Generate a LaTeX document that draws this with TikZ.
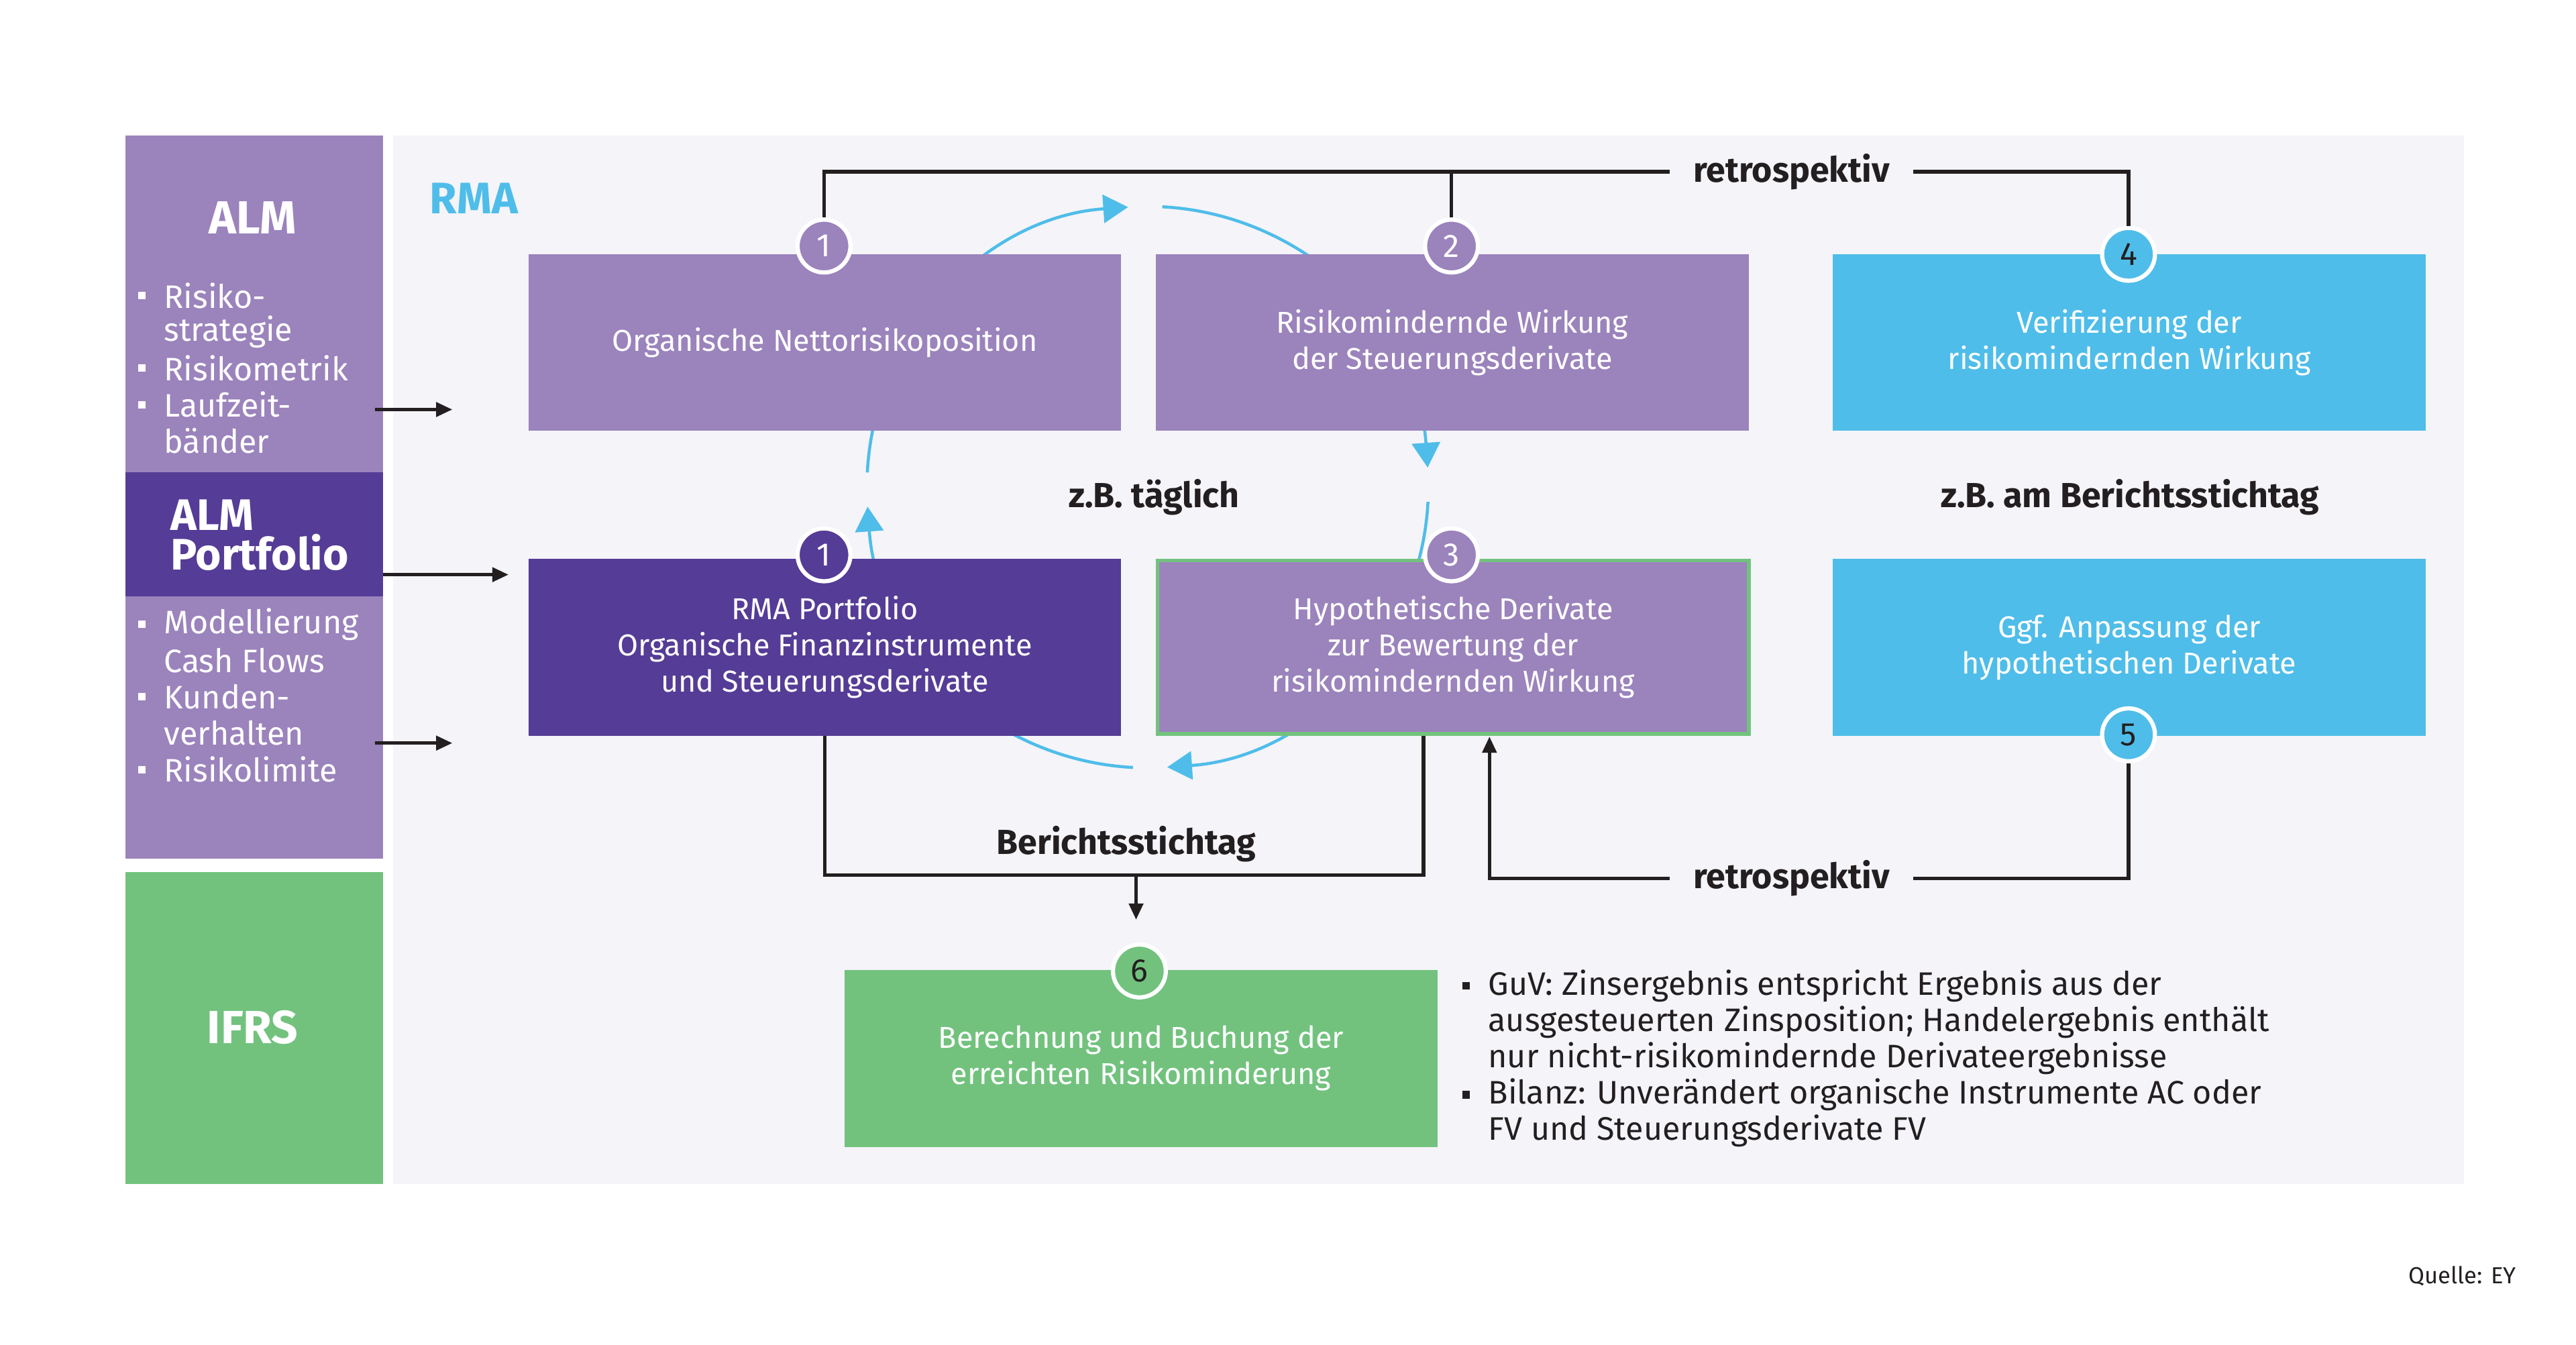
\documentclass[tikz,border=0pt]{standalone}
\usepackage{fontspec}
\setmainfont{Fira Sans}
\usetikzlibrary{arrows.meta,calc}
\definecolor{lp}{HTML}{9B83BC}
\definecolor{dp}{HTML}{553C96}
\definecolor{gr}{HTML}{72C27E}
\definecolor{cy}{HTML}{4FBDE9}
\definecolor{bg}{HTML}{F4F4F9}
\definecolor{tx}{HTML}{231F20}
\tikzset{
 box/.style={minimum width=359*0.025cm, minimum height=107*0.025cm, inner sep=0, align=center, text=white, font=\fontsize{13}{15.6}\selectfont},
 num/.style={circle, draw=white, line width=1.8pt, minimum size=32*0.025cm, inner sep=0, font=\fontsize{14}{14}\selectfont},
 blk/.style={draw=tx, line width=1.6pt},
 lab/.style={text=tx, font=\fontsize{15}{15}\selectfont\bfseries, inner xsep=10pt},
 side/.style={anchor=west, text=white, font=\fontsize{14}{14}\selectfont, inner sep=0},
 bul/.style={fill=white, minimum size=4.5*0.025cm, inner sep=0},
 cyc/.style={draw=cy, line width=1.3pt, -{Triangle[width=17*0.025cm,length=15*0.025cm]}},
 tip/.style={-{Triangle[width=6pt,length=7pt]}}
}
\begin{document}
\begin{tikzpicture}[x=0.025cm,y=-0.025cm]
\useasboundingbox (0,0) rectangle (1560,814.5);
\fill[white] (0,0) rectangle (1560,814.5);
\fill[bg] (238,82) rectangle (1492,717);
% left column
\fill[lp] (76,82) rectangle (232,286);
\fill[dp] (76,286) rectangle (232,361);
\fill[lp] (76,361) rectangle (232,520);
\fill[gr] (76,528) rectangle (232,717);
\node[text=white,font=\fontsize{20}{20}\selectfont\bfseries] (alm) at (153,132) {ALM};
\node[text=white,font=\fontsize{19}{19}\selectfont\bfseries,anchor=west,align=left,inner sep=0] (almp) at (103,324) {ALM\\[-2pt]Portfolio};
\node[text=white,font=\fontsize{20}{20}\selectfont\bfseries] (ifrs) at (153,622) {IFRS};
\foreach \t/\y in {Risiko-/179,strategie/201,Risikometrik/223,Laufzeit-/245,bänder/267,Modellierung/378,Cash Flows/400,Kunden-/422,verhalten/444,Risikolimite/466}{\node[side] at (99,\y) {\t};}
\foreach \y in {179,223,245,378,422,466}{\node[bul] at (86,\y) {};}
\coordinate (a1s) at (227,248); \coordinate (a1e) at (274,248);
\coordinate (a2s) at (232,348); \coordinate (a2e) at (308,348);
\coordinate (a3s) at (227,450); \coordinate (a3e) at (274,450);
\draw[blk,tip] (a1s) -- (a1e);
\draw[blk,tip] (a2s) -- (a2e);
\draw[blk,tip] (a3s) -- (a3e);
\node[text=cy,font=\fontsize{19}{19}\selectfont\bfseries] (rma) at (287,120) {RMA};
% cycle
\coordinate (cc) at (695,295);
\draw[cyc] ($(cc)+(183:170)$) arc[start angle=183,end angle=266,radius=170];
\draw[cyc] ($(cc)+(273:170)$) arc[start angle=273,end angle=356,radius=170];
\draw[cyc] ($(cc)+(363:170)$) arc[start angle=363,end angle=446,radius=170];
\draw[cyc] ($(cc)+(453:170)$) arc[start angle=453,end angle=536,radius=170];
% boxes
\node[box,fill=lp] (b1) at (499.5,207.5) {Organische Nettorisikoposition};
\node[box,fill=lp] (b2) at (879.5,207.5) {Risikomindernde Wirkung\\der Steuerungsderivate};
\node[box,fill=cy] (b4) at (1289.5,207.5) {Verifizierung der\\risikomindernden Wirkung};
\node[box,fill=dp] (b1b) at (499.5,392) {RMA Portfolio\\Organische Finanzinstrumente\\und Steuerungsderivate};
\node[box,fill=lp,draw=gr,line width=1.6pt,minimum width=358*0.025cm,minimum height=105*0.025cm] (b3) at (880,392) {Hypothetische Derivate\\zur Bewertung der\\risikomindernden Wirkung};
\node[box,fill=cy] (b5) at (1289.5,392) {Ggf. Anpassung der\\hypothetischen Derivate};
\node[box,fill=gr] (b6) at (691,641) {Berechnung und Buchung der\\erreichten Risikominderung};
% labels
\node[lab] (rt1) at (1085,104) {retrospektiv};
\node[lab] (rt2) at (1085,532) {retrospektiv};
\node[lab] (t1) at (699,301) {z.B. täglich};
\node[lab] (t2) at (1290,301) {z.B. am Berichtsstichtag};
\node[lab] (bs) at (682,511) {Berichtsstichtag};
% numbers
\node[num,fill=lp,text=white] (n1) at (499,149) {1};
\node[num,fill=lp,text=white] (n2) at (879,149) {2};
\node[num,fill=cy,text=tx] (n4) at (1289,154) {4};
\node[num,fill=dp,text=white] (n1b) at (499,336) {1};
\node[num,fill=lp,text=white] (n3) at (879,336) {3};
\node[num,fill=cy,text=tx] (n5) at (1289,445) {5};
\node[num,fill=gr,text=tx] (n6) at (690,588) {6};
% connectors
\draw[blk] (n1.north) |- (rt1.west);
\draw[blk] (n2.north) -- (n2.north |- rt1);
\draw[blk] (rt1.east) -| (n4.north);
\coordinate (c1) at (862,530);
\draw[blk] (b1b.south) |- (c1) -- (c1 |- b3.south);
\coordinate (c2) at (688,530); \coordinate (c3) at (688,557);
\draw[blk,tip] (c2) -- (c3);
\coordinate (c4) at (902,446);
\draw[blk] (n5.south) |- (rt2.east);
\draw[blk,tip] (rt2.west) -| (c4);
% bullets right
\foreach \t/\y in {{GuV: Zinsergebnis entspricht Ergebnis aus der}/597,{ausgesteuerten Zinsposition; Handelergebnis enthält}/619,{nur nicht-risikomindernde Derivateergebnisse}/641,{Bilanz: Unverändert organische Instrumente AC oder}/663,{FV und Steuerungsderivate FV}/685}{\node[side,text=tx] at (901,\y) {\t};}
\node[bul,fill=tx] at (888,597) {};
\node[bul,fill=tx] at (888,663) {};
\node[anchor=east,text=tx,font=\fontsize{10}{10}\selectfont,inner sep=0] (q) at (1524,773) {Quelle: EY};
\end{tikzpicture}
\end{document}
